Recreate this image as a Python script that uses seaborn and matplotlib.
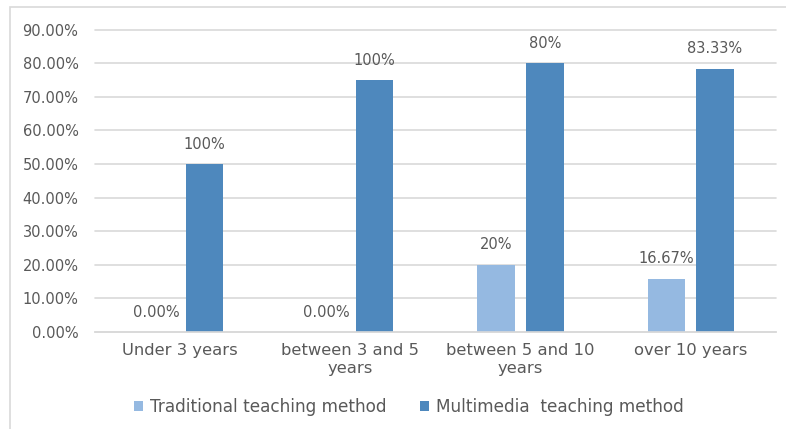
import matplotlib
matplotlib.use("Agg")
import matplotlib.pyplot as plt
import seaborn as sns
import pandas as pd
from matplotlib.patches import Rectangle

categories = ["Under 3 years", "between 3 and 5\nyears", "between 5 and 10\nyears", "over 10 years"]
series_names = ["Traditional teaching method", "Multimedia  teaching method"]
traditional = [0.0, 0.0, 20.0, 15.8]
multimedia = [50.0, 75.0, 80.0, 78.3]
traditional_labels = ["0.00%", "0.00%", "20%", "16.67%"]
multimedia_labels = ["100%", "100%", "80%", "83.33%"]
yticks = [0, 10, 20, 30, 40, 50, 60, 70, 80, 90]

sns.set_theme(style="white")
plt.rcParams['font.family'] = ['DejaVu Sans']

df = pd.DataFrame({
    "category": categories * 2,
    "series": [series_names[0]] * 4 + [series_names[1]] * 4,
    "value": traditional + multimedia,
})

colors = ["#95B9E1", "#4E88BD"]
text_color = "#595959"

fig = plt.figure(figsize=(7.86, 4.29), dpi=100)
ax = fig.add_axes([0.121, 0.226, 0.866, 0.705])

sns.barplot(data=df, x="category", y="value", hue="series", order=categories,
            hue_order=series_names, palette=colors, width=0.572, gap=0.23,
            saturation=1, ax=ax, legend=True, edgecolor="none", linewidth=0)

ax.set_ylim(0, 90)
ax.set_xlim(-0.5, 3.5)
ax.set_yticks(yticks)
ax.set_yticklabels([f"{v:.2f}%" for v in yticks], color=text_color, fontsize=10.5)
ax.tick_params(axis="x", colors=text_color, labelsize=11.8, length=0, pad=8)
ax.tick_params(axis="y", length=0, pad=12)
ax.set_xlabel("")
ax.set_ylabel("")
ax.yaxis.grid(True, color="#D9D9D9", linewidth=1.2)
for gl in ax.get_ygridlines():
    gl.set_clip_on(False)
ax.set_axisbelow(True)
for s in ["top", "right", "left"]:
    ax.spines[s].set_visible(False)
ax.spines["bottom"].set_color("#D9D9D9")
ax.spines["bottom"].set_linewidth(1.2)
for lab in ax.get_xticklabels():
    lab.set_linespacing(1.25)

ax.bar_label(ax.containers[0], labels=traditional_labels, padding=9, color=text_color, fontsize=10.5)
ax.bar_label(ax.containers[1], labels=multimedia_labels, padding=9, color=text_color, fontsize=10.5)

handles, labels = ax.get_legend_handles_labels()
ax.legend_.remove()
fig.legend(handles, labels, loc="center", bbox_to_anchor=(0.52, 0.051), ncol=2,
           frameon=False, fontsize=12.2, handlelength=0.55, handleheight=0.55,
           handletextpad=0.4, columnspacing=2.0, labelcolor=text_color)

fig.patches.append(Rectangle((10 / 786, -0.1), 1.2, 1 - 7 / 429 + 0.1, transform=fig.transFigure,
                             fill=False, edgecolor="#D9D9D9", linewidth=1.2))

fig.savefig("out.png", dpi=100)
